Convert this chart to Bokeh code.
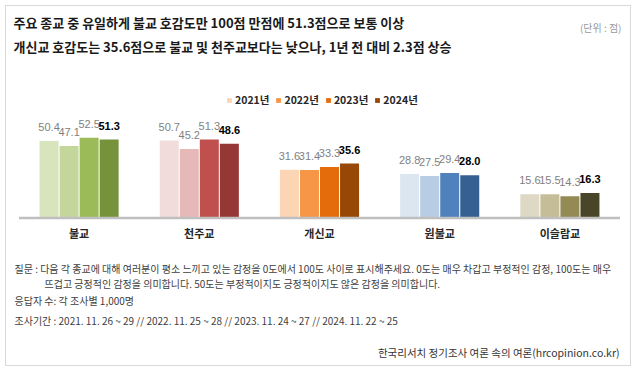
from bokeh.plotting import figure
from bokeh.models import ColumnDataSource, FactorRange, Range1d, Label, Legend, LegendItem
from bokeh.transform import dodge
from bokeh.core.properties import value
from bokeh.embed import file_html
from bokeh.resources import INLINE

groups = ["불교", "천주교", "개신교", "원불교", "이슬람교"]
years = ["2021년", "2022년", "2023년", "2024년"]
v2021 = [50.4, 50.7, 31.6, 28.8, 15.6]
v2022 = [47.1, 45.2, 31.4, 27.5, 15.5]
v2023 = [52.5, 51.3, 33.3, 29.4, 14.3]
v2024 = [51.3, 48.6, 35.6, 28.0, 16.3]
series = [v2021, v2022, v2023, v2024]

colors = {
    "2021년": ["#d8e4bc", "#f2dcdb", "#fcd5b4", "#dce6f1", "#ddd9c4"],
    "2022년": ["#c4d79b", "#e6b9b8", "#f79646", "#b8cce4", "#c4bd97"],
    "2023년": ["#9bbb59", "#c0504d", "#e46c0a", "#4f81bd", "#948a54"],
    "2024년": ["#76933c", "#953735", "#974706", "#366092", "#494529"],
}

title1 = "주요 종교 중 유일하게 불교 호감도만 100점 만점에 51.3점으로 보통 이상"
title2 = "개신교 호감도는 35.6점으로 불교 및 천주교보다는 낮으나, 1년 전 대비 2.3점 상승"
unit = "(단위 : 점)"
note1 = "질문 : 다음 각 종교에 대해 여러분이 평소 느끼고 있는 감정을 0도에서 100도 사이로 표시해주세요. 0도는 매우 차갑고 부정적인 감정, 100도는 매우"
note2 = "뜨겁고 긍정적인 감정을 의미합니다. 50도는 부정적이지도 긍정적이지도 않은 감정을 의미합니다."
note3 = "응답자 수: 각 조사별 1,000명"
note4 = "조사기간 : 2021. 11. 26 ~ 29 // 2022. 11. 25 ~ 28 // 2023. 11. 24 ~ 27 // 2024. 11. 22 ~ 25"
source_txt = "한국리서치 정기조사 여론 속의 여론(hrcopinion.co.kr)"

KR = "Noto Sans CJK KR"
NUM = "Liberation Sans"

p = figure(width=626, height=361, output_backend="svg", toolbar_location=None,
           x_range=FactorRange(factors=groups, range_padding=0.104, range_padding_units="absolute"),
           y_range=Range1d(-97.84, 138.42),
           min_border=0,
           styles={"border": "1px solid #d9d9d9", "margin-left": "5px", "margin-top": "5px"})
p.outline_line_color = None
p.grid.visible = False
p.axis.visible = False
p.background_fill_color = "white"
p.border_fill_color = "white"

offsets = [-0.25, -0.0833, 0.0833, 0.25]
items = []
for yr, vals, off in zip(years, series, offsets):
    src = ColumnDataSource(dict(
        group=groups, val=vals, color=colors[yr],
        label=[f"{v:.1f}" for v in vals]))
    r = p.vbar(x=dodge("group", off, range=p.x_range), top="val", bottom=0,
               width=0.158, fill_color="color", line_color=None, source=src)
    last = yr == years[-1]
    p.text(x=dodge("group", off, range=p.x_range), y="val", text="label", source=src,
           text_align="center", text_baseline="alphabetic", y_offset=-14,
           text_font=value(NUM), text_font_size="11px",
           text_font_style="bold" if last else "normal",
           text_color="#000000" if last else "#7f7f7f")
    items.append(LegendItem(label=yr, renderers=[r], index=2))

# category axis line and labels
p.segment(x0=[(groups[0], -0.5)], x1=[(groups[-1], 0.5)], y0=[0], y1=[0],
          line_color="#bfbfbf", line_width=2.5)
cat_src = ColumnDataSource(dict(group=groups, base=[0] * len(groups)))
p.text(x="group", y="base", text="group", source=cat_src, y_offset=14.5,
       text_align="center", text_baseline="middle",
       text_font=value(KR), text_font_size="11px", text_font_style="bold",
       text_color="#262626")

legend = Legend(items=items, orientation="horizontal", location=(220, 260),
                glyph_width=6, glyph_height=6, label_standoff=3, spacing=6,
                padding=0, margin=0, label_height=14,
                label_text_font=KR, label_text_font_size="10.5px",
                label_text_font_style="bold", label_text_color="#262626",
                border_line_color=None, background_fill_alpha=0)
p.add_layout(legend, "center")

def lab(text, x, y, size, color, style="normal", align="left"):
    p.add_layout(Label(x=x, y=y, x_units="screen", y_units="screen", text=text,
                       text_font=KR, text_font_size=size, text_color=color,
                       text_font_style=style, text_align=align, text_baseline="middle"))

lab(title1, 7, 345, "13px", "#1a1a1a", "bold")
lab(title2, 7, 321, "13px", "#1a1a1a", "bold")
lab(unit, 615, 340, "10px", "#999999", align="right")
lab(note1, 8, 99, "10px", "#404040")
lab(note2, 38, 84, "10px", "#404040")
lab(note3, 8, 67, "10px", "#404040")
lab(note4, 8, 47, "10px", "#404040")
lab(source_txt, 613, 15, "10.5px", "#333333", align="right")

open("out.html", "w").write(file_html(p, INLINE))
